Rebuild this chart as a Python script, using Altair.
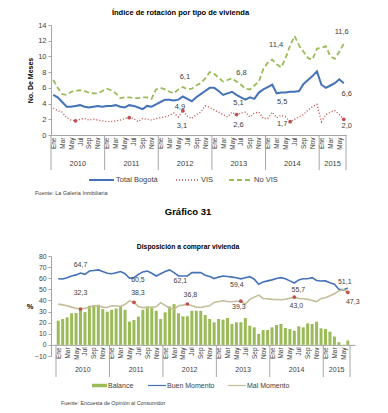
import altair as alt
import pandas as pd

FONT = "Liberation Sans"
BLUE = "#4472B8"
RED = "#C0504D"
GREEN = "#9BBB59"
TAN = "#C4BD97"
GRAY = "#A6A6A6"
TXT = "#404040"

MONTHS = ["Ene", "Feb", "Mar", "Abr", "May", "Jun", "Jul", "Ago", "Sep", "Oct", "Nov", "Dic"]
YEARS = ["2010", "2011", "2012", "2013", "2014", "2015"]
MONTHS_PER_YEAR = [12, 12, 12, 12, 12, 6]

# ---- Chart 1: Índice de rotación (meses) ----
total_bogota = [5.1, 4.8, 4.2, 3.6, 3.6, 3.7, 3.8, 3.6, 3.5, 3.6, 3.7, 3.6,
                3.7, 3.7, 3.8, 3.6, 3.5, 3.8, 3.7, 3.5, 3.3, 3.7, 3.6, 3.9,
                4.2, 4.5, 4.5, 4.4, 4.5, 4.9, 4.6, 4.3, 4.8, 5.2, 5.6, 6.0,
                6.0, 5.6, 5.1, 5.3, 5.5, 5.1, 4.8, 4.5, 4.8, 4.6, 5.4, 5.8,
                6.1, 6.4, 5.3, 5.4, 5.4, 5.5, 5.5, 5.6, 6.5, 7.0, 7.5, 8.1,
                6.4, 6.0, 6.3, 6.6, 7.1, 6.6]
vis = [3.4, 3.1, 2.9, 2.2, 1.9, 1.8, 2.0, 2.1, 1.9, 2.0, 1.9, 1.8,
       1.7, 1.7, 1.8, 1.9, 2.1, 2.2, 2.1, 1.7, 2.1, 2.0, 1.9, 2.1,
       2.2, 2.3, 2.5, 2.8, 2.3, 3.1, 2.4, 2.1, 2.6, 2.9, 3.7, 3.5,
       3.2, 2.9, 2.6, 2.3, 2.9, 2.6, 2.8, 2.9, 2.3, 2.8, 2.9, 2.1,
       2.1, 2.9, 2.2, 2.5, 2.3, 1.7, 2.0, 2.3, 2.6, 3.2, 3.6, 3.9,
       1.7, 2.6, 2.9, 3.1, 2.6, 2.0]
no_vis = [7.0, 6.0, 5.2, 5.1, 5.5, 5.6, 5.7, 5.6, 5.4, 5.3, 5.3, 5.6,
          5.9, 5.7, 5.3, 4.7, 4.8, 4.8, 4.7, 4.7, 4.8, 4.8, 4.6, 5.8,
          6.0, 5.8, 5.5, 5.3, 5.8, 6.1, 5.8, 5.9, 6.3, 6.6, 7.2, 8.0,
          7.8, 7.3, 6.8, 7.0, 7.2, 6.8, 6.4, 5.9, 5.8, 6.3, 6.8, 8.4,
          9.2, 9.6, 9.0, 8.6, 9.8, 11.4, 12.6, 11.4, 10.6, 9.8, 9.6, 11.0,
          11.1, 11.3, 10.0, 9.7, 10.6, 11.6]

# ---- Chart 2: Disposición a comprar vivienda (%) ----
balance = [21.8, 23.3, 24.8, 28.4, 28.7, 31.6, 29.5, 35.2, 35.8, 36.1, 32.2, 29.9,
           31.6, 32.8, 35.2, 31.6, 20.9, 22.4, 25.4, 31.6, 34.6, 33.1, 30.7, 23.3,
           29.3, 34.6, 36.7, 28.4, 25.7, 25.7, 30.7, 30.7, 30.7, 26.9, 23.3, 20.3,
           23.3, 22.7, 24.2, 18.8, 20.3, 20.3, 24.2, 17.3, 15.8, 9.9, 13.4, 13.4,
           15.8, 17.9, 18.8, 15.2, 14.3, 12.8, 16.7, 15.8, 19.4, 18.8, 20.9, 14.9,
           14.3, 11.9, 7.5, 2.4, -0.6, 3.9]
buen_momento = [59.5, 59.3, 60.5, 62.0, 63.0, 64.7, 63.5, 66.5, 67.0, 67.5, 66.0, 64.5,
                64.0, 65.0, 66.0, 64.0, 60.0, 60.5, 63.5, 65.7, 66.5, 64.5, 62.0, 64.0,
                66.0, 67.5, 65.0, 62.0, 62.0, 62.1, 65.0, 65.0, 65.0, 62.7, 61.5, 59.7,
                61.0, 62.0, 61.5, 61.0, 60.5, 59.4, 60.5, 61.4, 59.1, 54.6, 56.7, 57.6,
                58.5, 59.7, 60.5, 59.5, 57.6, 55.7, 58.5, 59.5, 59.5, 60.5, 58.0, 57.5,
                57.6, 56.0, 54.6, 50.1, 49.5, 51.1]
mal_momento = [36.7, 36.0, 35.2, 34.0, 33.0, 32.3, 33.0, 33.7, 35.0, 35.2, 34.0, 33.7,
               35.2, 35.0, 34.6, 36.5, 39.7, 38.3, 34.6, 33.5, 33.7, 34.0, 34.3, 38.0,
               35.5, 33.0, 32.2, 35.2, 35.8, 36.8, 35.2, 34.0, 33.7, 34.5, 35.2, 38.2,
               39.0, 39.7, 39.0, 38.8, 39.3, 39.3, 36.7, 41.0, 43.0, 44.8, 41.8, 41.5,
               41.0, 40.8, 40.6, 41.0, 42.0, 43.0, 41.8, 41.5, 41.0, 40.0, 39.0, 41.8,
               42.5, 44.2, 46.0, 48.6, 50.0, 47.3]

# months (index) with data labels: June of every year
LABEL_T = [5, 17, 29, 41, 53, 65]

N = len(total_bogota)
T = list(range(N))
bounds = [-0.5]
for m in MONTHS_PER_YEAR:
    bounds.append(bounds[-1] + m)
centers = [(a + b) / 2 for a, b in zip(bounds[:-1], bounds[1:])]

ONE = pd.DataFrame({"k": [0]})
x_scale = alt.Scale(domain=[-0.5, N - 0.5], nice=False, zero=False)
LABEL_EXPR = "[" + ",".join("'%s'" % m for m in MONTHS) + "][datum.value % 12]"


def fmt(v):
    return ("%.1f" % v).replace(".", ",")


def month_axis(offset=0):
    return alt.Axis(values=list(range(0, N, 2)), labelExpr=LABEL_EXPR, labelAngle=270,
                    labelFontSize=6.5, labelColor=TXT, labelFont=FONT, labelPadding=2,
                    labelOverlap=False, labelFlush=False, ticks=False, grid=False,
                    domainColor=GRAY, title=None, offset=offset)


def hline(x1, x2, y, color, width, dash=None):
    kw = dict(color=color, strokeWidth=width)
    if dash:
        kw["strokeDash"] = dash
    return alt.Chart(ONE).mark_rule(**kw).encode(x=alt.value(x1), x2=alt.value(x2), y=alt.value(y))


def note(x, y, text, size, bold=False, align="left"):
    kw = dict(fontWeight="bold") if bold else {}
    return alt.Chart(ONE).mark_text(text=text, align=align, baseline="middle", fontSize=size,
                                    font=FONT, color=TXT, **kw).encode(x=alt.value(x), y=alt.value(y))


def year_layers(X, y_top, y_bot, y_text, size):
    seps = alt.Chart(pd.DataFrame({"t": bounds})).mark_rule(color=GRAY, strokeWidth=1).encode(
        x=X, y=alt.value(y_top), y2=alt.value(y_bot))
    yrs = alt.Chart(pd.DataFrame({"t": centers, "year": YEARS})).mark_text(
        fontSize=size, font=FONT, color=TXT, baseline="middle").encode(
        x=X, y=alt.value(y_text), text="year:N")
    return [seps, yrs]


# ================= TOP CHART =================
W1, H1 = 295, 110
y1 = alt.Scale(domain=[0, 14], nice=False)
top_df = pd.DataFrame({"t": T * 3, "value": total_bogota + vis + no_vis,
                       "series": ["Total Bogotá"] * N + ["VIS"] * N + ["No VIS"] * N})
AX_Y1 = alt.Axis(values=list(range(0, 15, 2)), grid=False, domainColor=GRAY, tickColor=GRAY,
                 tickSize=3, labelFontSize=7.5, labelColor=TXT, labelFont=FONT, labelPadding=2,
                 title="No. De Meses", titleFont=FONT, titleFontSize=7, titleFontWeight="bold",
                 titleColor="#000000", titlePadding=4)
Y1 = alt.Y("value:Q", scale=y1, axis=AX_Y1)
X1 = alt.X("t:Q", scale=x_scale, axis=month_axis())
base1 = alt.Chart(top_df)
l_novis = base1.transform_filter(alt.datum.series == "No VIS").mark_line(
    color=GREEN, strokeWidth=1.8, strokeDash=[5, 3]).encode(x=X1, y=Y1)
l_vis = base1.transform_filter(alt.datum.series == "VIS").mark_line(
    color=RED, strokeWidth=1.4, strokeDash=[1, 2]).encode(x=X1, y=Y1)
l_total = base1.transform_filter(alt.datum.series == "Total Bogotá").mark_line(
    color=BLUE, strokeWidth=2).encode(x=X1, y=Y1)
vis_dots = alt.Chart(pd.DataFrame({"t": LABEL_T, "value": [vis[i] for i in LABEL_T]})).mark_circle(
    color=RED, size=14, opacity=1).encode(x=X1, y=Y1)

top_offsets = {
    "total": [None, None, (-3, 10), (2, 8), (-8, 10), (3, 11)],
    "vis": [None, None, (-1, 15), (2, 10), (-8, 2), (3, 7)],
    "novis": [None, None, (2, -10), (5, -9), (-14, 0), (-2, -12)],
}
top_series = {"total": total_bogota, "vis": vis, "novis": no_vis}
top_labels = []
for key, offs in top_offsets.items():
    for ti, off in zip(LABEL_T, offs):
        if off is None:
            continue
        v = top_series[key][ti]
        top_labels.append(alt.Chart(pd.DataFrame({"t": [ti], "value": [v], "lab": [fmt(v)]})).mark_text(
            dx=off[0], dy=off[1], fontSize=7.5, font=FONT, color=TXT, baseline="middle").encode(
            x=X1, y=Y1, text="lab:N"))

LY1 = H1 + 45
top_legend = [
    hline(38, 63, LY1, BLUE, 2), note(65, LY1, "Total Bogotá", 7.5),
    hline(125, 148, LY1, RED, 1.4, [1, 2]), note(150, LY1, "VIS", 7.5),
    hline(178, 201, LY1, GREEN, 1.8, [5, 3]), note(203, LY1, "No VIS", 7.5),
    note(-16, H1 + 58, "Fuente: La Galería Inmbiliaria", 5.5),
]

top = alt.layer(l_novis, l_vis, l_total, vis_dots, *top_labels,
                *year_layers(X1, H1, H1 + 35, H1 + 29, 7.5), *top_legend).properties(
    width=W1, height=H1,
    title=alt.TitleParams("Índice de rotación por tipo de vivienda", font=FONT, fontSize=7.5,
                          fontWeight="bold", color="#000000", anchor="middle", dx=-18, offset=5))

# ================= BOTTOM CHART =================
W2, H2 = 304, 100
y2 = alt.Scale(domain=[-10, 80], nice=False)
Y0 = H2 * 80 / 90
bot_df = pd.DataFrame({"t": T, "balance": balance, "buen": buen_momento, "mal": mal_momento})
base2 = alt.Chart(bot_df)
AX_Y2 = alt.Axis(values=list(range(-10, 81, 10)), grid=False, domainColor=GRAY, tickColor=GRAY, tickSize=3,
                 labelFontSize=6.8, labelColor=TXT, labelFont=FONT, labelPadding=2,
                 title="%", titleAngle=0, titleFont=FONT, titleFontSize=7.5, titleFontWeight="bold",
                 titleColor="#000000", titlePadding=5, titleBaseline="middle")
X2 = alt.X("t:Q", scale=x_scale, axis=month_axis(offset=-(H2 - Y0)))


def Y2(field):
    return alt.Y(field + ":Q", scale=y2, axis=AX_Y2)


bars = base2.mark_bar(color=GREEN, size=3).encode(x=X2, y=Y2("balance"))
l_buen = base2.mark_line(color=BLUE, strokeWidth=1.6).encode(x=X2, y=Y2("buen"))
l_mal = base2.mark_line(color=TAN, strokeWidth=1.6).encode(x=X2, y=Y2("mal"))
mal_dots = alt.Chart(pd.DataFrame({"t": LABEL_T, "value": [mal_momento[i] for i in LABEL_T]})).mark_circle(
    color=RED, size=14, opacity=1).encode(x=X2, y=Y2("value"))

bot_offsets = {
    "buen": [(0, -8), (4, 2), (-7, 5), (-4, 6), (4, 7), (-3, -6)],
    "mal": [(0, -16), (4, -9), (3, -9), (-2, 6), (2, 9), (5, 9.5)],
}
bot_series = {"buen": buen_momento, "mal": mal_momento}
bot_labels = []
for key, offs in bot_offsets.items():
    for ti, off in zip(LABEL_T, offs):
        v = bot_series[key][ti]
        bot_labels.append(alt.Chart(pd.DataFrame({"t": [ti], "value": [v], "lab": [fmt(v)]})).mark_text(
            dx=off[0], dy=off[1], fontSize=7, font=FONT, color=TXT, baseline="middle").encode(
            x=X2, y=Y2("value"), text="lab:N"))

LY2 = 129.5
bot_legend = [
    hline(41, 56, LY2, GREEN, 3.5), note(57, LY2, "Balance", 7),
    hline(97, 115, LY2, BLUE, 1.2), note(116, LY2, "Buen Momento", 7),
    hline(177, 195, LY2, TAN, 1.2), note(196, LY2, "Mal Momento", 7),
    note(10, 147, "Fuente: Encuesta de Opinión al Consumidor", 5.3),
]

bottom = alt.layer(bars, l_buen, l_mal, mal_dots, *bot_labels,
                   *year_layers(X2, Y0, 121, 113.5, 7), *bot_legend).properties(
    width=W2, height=H2,
    title=alt.TitleParams("Gráfico 31", subtitle="Disposición  a comprar vivienda", font=FONT,
                          fontSize=9.5, fontWeight="bold", color="#000000",
                          subtitleFont=FONT, subtitleFontSize=6.8, subtitleFontWeight="bold",
                          subtitleColor="#000000", subtitlePadding=28, anchor="middle", dx=-15, offset=2))

chart = alt.vconcat(top, bottom, spacing=9).properties(
    padding={"left": 18, "top": 0, "right": 4, "bottom": 0},
    background="white"
).configure_view(stroke=None)

chart.save("out.html", embed_options={"renderer": "svg", "actions": False})
